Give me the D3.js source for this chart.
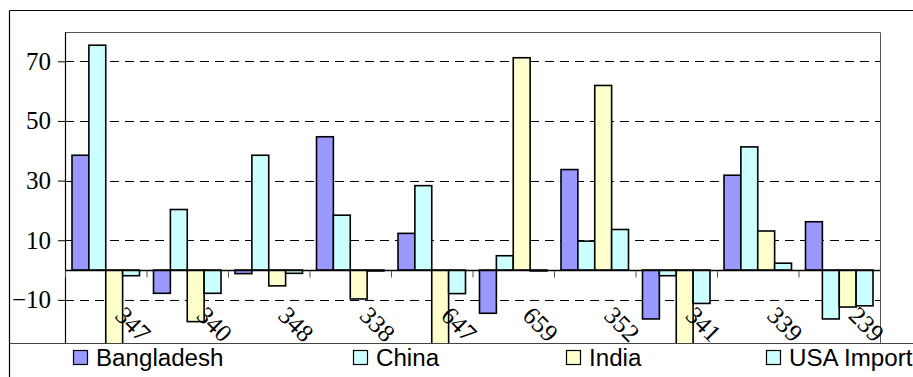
<!DOCTYPE html>
<html>
<head>
<meta charset="utf-8">
<script src="https://cdn.jsdelivr.net/npm/d3@7/dist/d3.min.js"></script>
<style>
  html, body { margin: 0; padding: 0; background: #fff; }
  svg { display: block; }
</style>
</head>
<body>
<script>
// Category codes along the x axis
const categories = ["347", "340", "348", "338", "647", "659", "352", "341", "339", "239"];

// Series values per category
const bangladesh = [38.5, -7.8, -1.2, 44.7, 12.3, -14.5, 33.7, -16.4, 31.8, 16.2];
const china      = [75.4, 20.3, 38.5, 18.4, 28.3, 4.8, 9.7, -1.9, 41.3, -16.4];
const india      = [-27, -17.3, -5.3, -9.7, -27, 71.2, 61.9, -27, 13.1, -12.4];
const usaImport  = [-1.9, -7.8, -1.1, -0.3, -7.9, -0.3, 13.6, -11.2, 2.3, -12.0];

const seriesNames = ["Bangladesh", "China", "India", "USA Import"];
const seriesColors = ["#9999ff", "#ccffff", "#ffffcc", "#ccffff"];
const yTicks = [-10, 10, 30, 50, 70];

const W = 913, H = 377;
const plot = { left: 65, right: 880, top: 32, bottom: 343 };

const series = [bangladesh, china, india, usaImport].map((vals, i) => ({
  name: seriesNames[i], color: seriesColors[i], values: vals
}));

const svg = d3.select("body").append("svg")
  .attr("width", W).attr("height", H);

// Outer chart border (only top and left edges fall inside the window)
svg.append("line").attr("x1", 9.5).attr("x2", W).attr("y1", 10.5).attr("y2", 10.5)
  .attr("stroke", "#000").attr("stroke-width", 1.2);
svg.append("line").attr("x1", 9.5).attr("x2", 9.5).attr("y1", 10.5).attr("y2", H)
  .attr("stroke", "#000").attr("stroke-width", 1.2);

const y = d3.scaleLinear().domain([-30, 80]).range([359.5, 31.5]);
const x0 = d3.scaleBand().domain(categories).range([plot.left, plot.right]).padding(0);
const gap = 14;
const x1 = d3.scaleBand().domain(seriesNames).range([gap / 2, x0.bandwidth() - gap / 2]).padding(0);

// Dashed gridlines
svg.append("g").selectAll("line").data(yTicks).join("line")
  .attr("x1", plot.left).attr("x2", plot.right)
  .attr("y1", d => Math.round(y(d)) + 0.5).attr("y2", d => Math.round(y(d)) + 0.5)
  .attr("stroke", "#000").attr("stroke-width", 1)
  .attr("stroke-dasharray", "9,6");

// Plot frame
svg.append("path")
  .attr("d", `M${plot.left},${plot.top + 0.5}H${plot.right + 0.5}V${plot.bottom}`)
  .attr("fill", "none").attr("stroke", "#555").attr("stroke-width", 1);

// Bars, clipped to the plot area
svg.append("clipPath").attr("id", "plotClip").append("rect")
  .attr("x", plot.left).attr("y", plot.top)
  .attr("width", plot.right - plot.left).attr("height", plot.bottom - plot.top);

const barsG = svg.append("g").attr("clip-path", "url(#plotClip)");
const groups = barsG.selectAll("g").data(categories).join("g")
  .attr("transform", d => `translate(${x0(d)},0)`);
groups.selectAll("rect")
  .data((c, ci) => series.map(s => ({ name: s.name, color: s.color, v: s.values[ci] })))
  .join("rect")
  .attr("x", d => x1(d.name))
  .attr("width", x1.bandwidth())
  .attr("y", d => y(Math.max(0, d.v)))
  .attr("height", d => Math.abs(y(d.v) - y(0)))
  .attr("fill", d => d.color)
  .attr("stroke", "#000").attr("stroke-width", 1.6);

// Y axis
const yAxis = d3.axisLeft(y).tickValues(yTicks).tickSize(7).tickPadding(7).tickFormat(d3.format("d"));
const yg = svg.append("g").attr("transform", `translate(${plot.left},0)`).call(yAxis);
yg.select(".domain").remove();
yg.append("line").attr("x1", 0.5).attr("x2", 0.5).attr("y1", plot.top).attr("y2", plot.bottom)
  .attr("stroke", "#000").attr("stroke-width", 1.2);
yg.selectAll(".tick line").attr("stroke", "#000");
yg.selectAll(".tick text")
  .attr("font-family", "'Liberation Serif', 'Times New Roman', serif")
  .attr("font-size", 25).attr("fill", "#000");

// Zero axis with category tick marks
const zeroY = Math.round(y(0)) + 0.5;
svg.append("line").attr("x1", plot.left).attr("x2", plot.right).attr("y1", zeroY).attr("y2", zeroY)
  .attr("stroke", "#000").attr("stroke-width", 1.6);
const tickXs = categories.map(c => x0(c)).concat([plot.right]);
svg.append("g").selectAll("line").data(tickXs).join("line")
  .attr("x1", d => d + 0.5).attr("x2", d => d + 0.5)
  .attr("y1", zeroY).attr("y2", zeroY + 7)
  .attr("stroke", "#555").attr("stroke-width", 1);

// Rotated category labels
svg.append("g").selectAll("text").data(categories).join("text")
  .attr("transform", d => `translate(${x0(d) + x0.bandwidth() / 2 + 8},317) rotate(45)`)
  .attr("font-family", "'Liberation Serif', 'Times New Roman', serif")
  .attr("font-size", 25).attr("fill", "#000")
  .text(d => d);

// Legend
svg.append("line").attr("x1", 9.5).attr("x2", W).attr("y1", 343.5).attr("y2", 343.5)
  .attr("stroke", "#444").attr("stroke-width", 1.2);
const legendX = [73, 353, 566, 766];
const lg = svg.append("g").selectAll("g").data(series).join("g")
  .attr("transform", (d, i) => `translate(${legendX[i]},350)`);
lg.append("rect").attr("x", 0.5).attr("y", 0.5).attr("width", 14).attr("height", 14)
  .attr("fill", d => d.color).attr("stroke", "#000").attr("stroke-width", 1.2);
lg.append("text")
  .attr("transform", "translate(23,15.5) scale(1.05,1)")
  .attr("font-family", "'Liberation Sans', Arial, sans-serif")
  .attr("font-size", 23).attr("fill", "#000")
  .text(d => d.name);
</script>
</body>
</html>
